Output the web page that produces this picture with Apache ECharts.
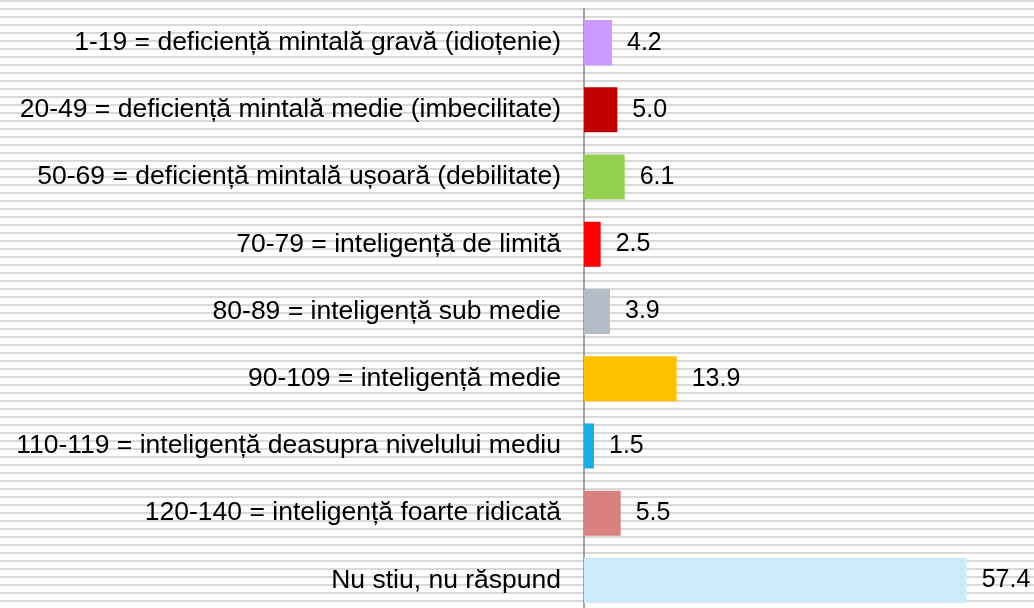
<!DOCTYPE html>
<html>
<head>
<meta charset="utf-8">
<script src="https://cdn.jsdelivr.net/npm/echarts@6/dist/echarts.min.js"></script>
<style>
html,body{margin:0;padding:0;overflow:hidden;}
#chart{width:1034px;height:608px;
  background-image: repeating-linear-gradient(to bottom, #d9d9d9 0px, #d9d9d9 2.5px, #ffffff 2.5px, #ffffff 8px);
}
</style>
</head>
<body>
<div id="chart"></div>
<script>
// categorii (de sus in jos)
var categories = [
  '1-19 = deficiență mintală gravă (idioțenie)',
  '20-49 = deficiență mintală medie (imbecilitate)',
  '50-69 = deficiență mintală ușoară (debilitate)',
  '70-79 = inteligență de limită',
  '80-89 = inteligență sub medie',
  '90-109 = inteligență medie',
  '110-119 = inteligență deasupra nivelului mediu',
  '120-140 = inteligență foarte ridicată',
  'Nu stiu, nu răspund'
];
var values = [4.2, 5.0, 6.1, 2.5, 3.9, 13.9, 1.5, 5.5, 57.4];
var colors = ['#cc99ff', '#c00000', '#92d050', '#ff0000', '#b5bdc8', '#ffc000', '#1aaee8', '#d98080', '#cceafc'];

var myChart = echarts.init(document.getElementById('chart'));
myChart.setOption({
  backgroundColor: 'transparent',
  animation: false,
  grid: {left: 584, right: 50, top: 9, bottom: -6, outerBoundsMode: 'none'},
  xAxis: {
    type: 'value', min: 0, max: 60,
    show: false,
    splitLine: {show: false}
  },
  yAxis: {
    type: 'category',
    inverse: true,
    data: categories,
    axisLine: {lineStyle: {color: '#868686', width: 1.5}},
    axisTick: {length: 7, lineStyle: {color: '#868686', width: 1.5}},
    axisLabel: {
      color: '#000', fontFamily: 'Liberation Sans, Arial, sans-serif', fontSize: 26.5, margin: 23
    }
  },
  series: [{
    type: 'bar',
    barCategoryGap: '33%',
    data: values.map(function (v, i) {
      return {value: v, itemStyle: {color: colors[i]}};
    }),
    label: {
      show: true,
      position: 'right',
      distance: 15,
      color: '#000',
      fontFamily: 'Liberation Sans, Arial, sans-serif',
      fontSize: 25,
      formatter: function (p) { return p.value.toFixed(1); }
    }
  }]
});
</script>
</body>
</html>
